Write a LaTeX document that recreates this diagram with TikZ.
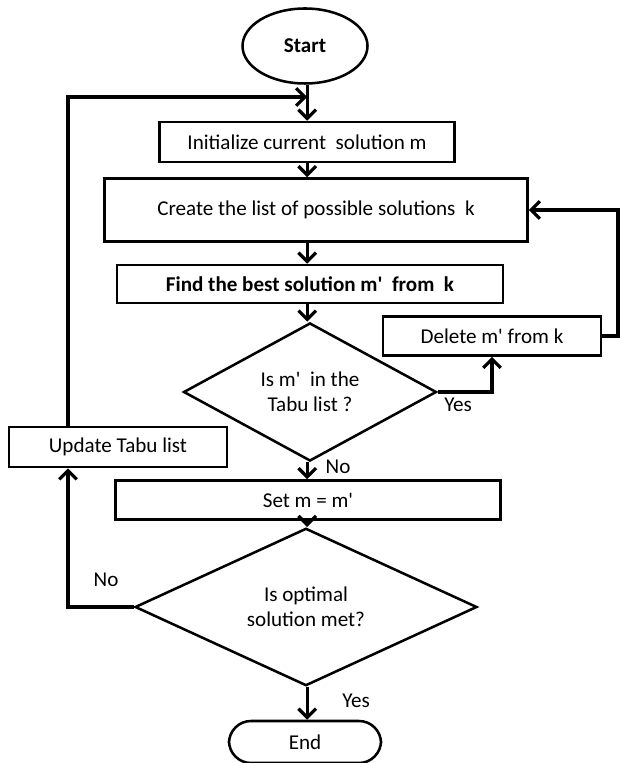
\documentclass[tikz,border=0pt]{standalone}
\usepackage{fontspec}
\setmainfont{Carlito}[Ligatures=TeXOff]
\usetikzlibrary{arrows.meta,calc,positioning,shapes.geometric}
\tikzset{
  wire/.style={black,line width=2.3pt},
  flow/.style={wire,-{Straight Barb[length=2.2mm,width=4.4mm,line width=2.3pt]}},
  stepbox/.style={draw=black,line width=1.8pt,fill=white,rectangle,
               inner sep=2pt,align=center,font=\fontsize{15}{17.5}\selectfont},
  terminal/.style={stepbox,ellipse},
  lab/.style={font=\fontsize{15}{17.5}\selectfont},
}
\begin{document}
\begin{tikzpicture}[x=1cm,y=1cm]
  \path[use as bounding box] (0,0) rectangle (15.5,19.075);

  \node[terminal,minimum width=3.125cm,minimum height=1.875cm,font=\fontsize{15}{17.5}\bfseries] (start) at (7.625,17.925) {Start};
  \node[stepbox,minimum width=7.375cm,minimum height=1.0cm] (init) at (7.675,15.525)
    {Initialize current \ solution m};
  \node[stepbox,minimum width=10.575cm,minimum height=1.575cm] (create) at (7.9,13.825)
    {Create the list of possible solutions \ k};
  \node[stepbox,minimum width=9.65cm,minimum height=0.95cm,font=\fontsize{15}{17.5}\bfseries] (find) at (7.75,11.975)
    {Find the best solution m' \ from \ k};
  \node[stepbox,diamond,minimum width=6.325cm,minimum height=3.175cm,inner sep=0pt] (tabu) at (7.75,9.275)
    {Is m' \ in the\\Tabu list ?};
  \node[stepbox,minimum width=5.45cm,minimum height=0.975cm] (del) at (12.3,10.675)
    {Delete m' from k};
  \node[stepbox,minimum width=5.45cm,minimum height=1.0cm] (upd) at (2.95,7.9)
    {Update Tabu list};
  \node[stepbox,minimum width=9.625cm,minimum height=0.975cm] (set) at (7.7,6.575)
    {Set m = m'};
  \node[stepbox,diamond,minimum width=8.55cm,minimum height=3.3cm,inner sep=0pt] (opt) at (7.65,3.9)
    {Is optimal\\solution met?};
  \node[stepbox,rounded corners=0.55cm,minimum width=3.8cm,minimum height=1.05cm] (end) at (7.625,0.525)
    {End};

  % loop corners and the main column
  \coordinate (col) at (7.68,0);
  \coordinate (lp) at (1.7,16.65);
  \coordinate (rp) at (15.45,13.825);
  \coordinate (jn) at (col |- lp);

  \draw[flow] (start.south -| col) -- (init.north -| col);
  \draw[flow] (init.south -| col) -- (create.north -| col);
  \draw[flow] (create.south -| col) -- (find.north -| col);
  \draw[flow] (find.south -| col) -- (tabu.north -| col);
  \draw[flow] (tabu.east) -| (del.south);
  \draw[flow] (del.east) -| (rp) -- (create.east);
  \draw[flow] (tabu.south -| col) -- (set.north -| col);
  \draw[flow] (set.south -| col) -- (opt.north -| col);
  \draw[flow] (opt.west) -| (upd.south -| lp);
  \draw[flow] (upd.north -| lp) |- (jn);
  \draw[flow] (opt.south -| col) -- (end.north -| col);

  \node[lab] (y1) at (11.45,8.95) {Yes};
  \node[lab] (n1) at (8.45,7.4) {No};
  \node[lab] (n2) at (2.65,4.575) {No};
  \node[lab] (y2) at (8.9,1.55) {Yes};
\end{tikzpicture}
\end{document}
